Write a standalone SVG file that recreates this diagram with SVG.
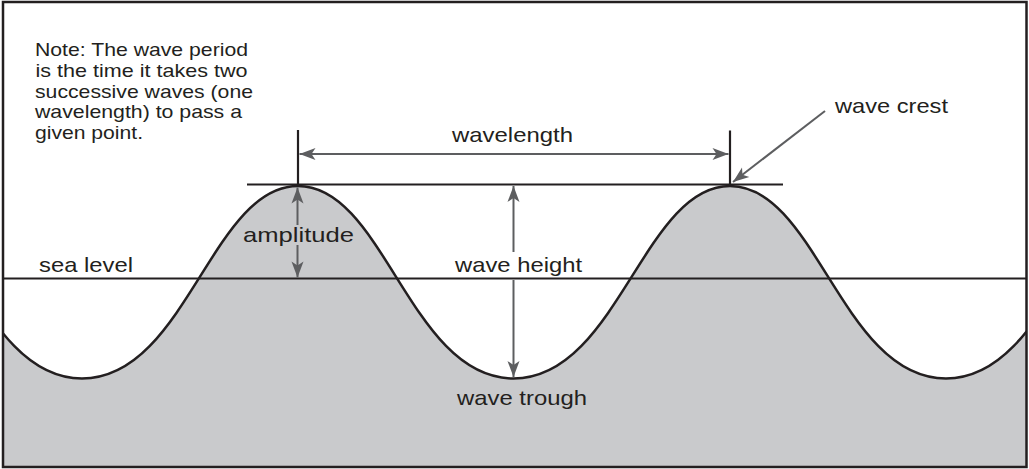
<svg xmlns="http://www.w3.org/2000/svg" width="1029" height="469" viewBox="0 0 1029 469">
  <style>
    .ink { stroke: #231f20; fill: none; }
    .arrow { stroke: #5d5e60; stroke-width: 2; fill: none; }
    .lbl { font-family: "Liberation Sans", Arial, Helvetica, sans-serif; font-size: 21px; fill: #231f20; }
    .note { font-family: "Liberation Sans", Arial, Helvetica, sans-serif; font-size: 18.5px; fill: #231f20; }
  </style>
  <defs>
    <clipPath id="frame">
      <rect x="3" y="2" width="1023.5" height="465"/>
    </clipPath>
    <marker id="ah" viewBox="-17 -7 18 14" refX="0" refY="0" markerWidth="18" markerHeight="14" markerUnits="userSpaceOnUse" orient="auto-start-reverse">
      <path d="M0,0 L-16,-6 L-12,0 L-16,6 Z" fill="#5d5e60"/>
    </marker>
  </defs>

  <rect x="0" y="0" width="1029" height="469" fill="#ffffff"/>

  <g id="sea" clip-path="url(#frame)">
    <path d="M -134,186 C -47.6,186 -21.7,378.5 82,378.5 C 185.7,378.5 211.6,186 298,186 C 384.4,186 410.3,378.5 513.5,378.5 C 617.2,378.5 643.6,186 730,186 C 816.4,186 842.3,378.5 946,378.5 C 1049.7,378.5 1075.6,186 1162,186 L 1162,480 L -134,480 Z" fill="#c9cacc" stroke="none"/>
    <path class="ink" stroke-width="2.5" d="M -134,186 C -47.6,186 -21.7,378.5 82,378.5 C 185.7,378.5 211.6,186 298,186 C 384.4,186 410.3,378.5 513.5,378.5 C 617.2,378.5 643.6,186 730,186 C 816.4,186 842.3,378.5 946,378.5 C 1049.7,378.5 1075.6,186 1162,186"/>
  </g>

  <g id="guides">
    <line id="sea-level-line" class="ink" stroke-width="2" x1="3" y1="278.5" x2="1026" y2="278.5"/>
    <line id="crest-line" class="ink" stroke-width="2.2" x1="247" y1="184.5" x2="783" y2="184.5"/>
    <line id="tick-left" class="ink" stroke-width="2.2" x1="298" y1="130" x2="298" y2="185"/>
    <line id="tick-right" class="ink" stroke-width="2.2" x1="730" y1="130.5" x2="730" y2="185"/>
  </g>

  <g id="connectors">
    <line class="arrow" x1="299.5" y1="154" x2="728.5" y2="154" marker-start="url(#ah)" marker-end="url(#ah)"/>
    <line class="arrow" x1="825" y1="111" x2="733" y2="182" marker-end="url(#ah)"/>
    <line class="arrow" x1="297.5" y1="225" x2="297.5" y2="187.5" marker-end="url(#ah)"/>
    <line class="arrow" x1="297.5" y1="245" x2="297.5" y2="277.5" marker-end="url(#ah)"/>
    <line class="arrow" x1="513.5" y1="252" x2="513.5" y2="186" marker-end="url(#ah)"/>
    <line class="arrow" x1="513.5" y1="280" x2="513.5" y2="377" marker-end="url(#ah)"/>
  </g>

  <g id="note">
    <text class="note" x="35" y="56" textLength="213" lengthAdjust="spacingAndGlyphs">Note: The wave period</text>
    <text class="note" x="35.5" y="76.8" textLength="212" lengthAdjust="spacingAndGlyphs">is the time it takes two</text>
    <text class="note" x="35" y="97.6" textLength="218" lengthAdjust="spacingAndGlyphs">successive waves (one</text>
    <text class="note" x="35" y="118.4" textLength="207" lengthAdjust="spacingAndGlyphs">wavelength) to pass a</text>
    <text class="note" x="35" y="139.2" textLength="108" lengthAdjust="spacingAndGlyphs">given point.</text>
  </g>

  <g id="label-wavelength">
    <text class="lbl" x="452" y="142" textLength="121" lengthAdjust="spacingAndGlyphs">wavelength</text>
  </g>
  <g id="label-wave-crest">
    <text class="lbl" x="835" y="113" textLength="113" lengthAdjust="spacingAndGlyphs">wave crest</text>
  </g>
  <g id="label-amplitude">
    <text class="lbl" x="243" y="241.7" textLength="111" lengthAdjust="spacingAndGlyphs">amplitude</text>
  </g>
  <g id="label-wave-height">
    <text class="lbl" x="455" y="271.7" textLength="127" lengthAdjust="spacingAndGlyphs">wave height</text>
  </g>
  <g id="label-sea-level">
    <text class="lbl" x="39" y="271.7" textLength="94" lengthAdjust="spacingAndGlyphs">sea level</text>
  </g>
  <g id="label-wave-trough">
    <text class="lbl" x="457" y="405" textLength="130" lengthAdjust="spacingAndGlyphs">wave trough</text>
  </g>

  <rect id="border" x="3" y="2" width="1023.5" height="465" fill="none" stroke="#231f20" stroke-width="2.5"/>
</svg>
